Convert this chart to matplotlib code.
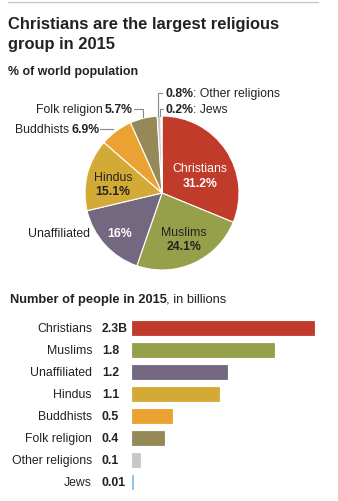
import matplotlib.pyplot as plt
from matplotlib.lines import Line2D

# data
religions = ["Christians", "Muslims", "Unaffiliated", "Hindus",
             "Buddhists", "Folk religion", "Other religions", "Jews"]
share_pct = [31.2, 24.1, 16.0, 15.1, 6.9, 5.7, 0.8, 0.2]
people_bn = [2.3, 1.8, 1.2, 1.1, 0.5, 0.4, 0.1, 0.01]
people_lbl = ["2.3B", "1.8", "1.2", "1.1", "0.5", "0.4", "0.1", "0.01"]
colors = ["#c13b2a", "#96a04a", "#736880", "#d4aa36",
          "#eca233", "#958a57", "#c6c8ca", "#86c2e6"]

W, H = 338, 502
plt.rcParams['font.family'] = ['Liberation Sans', 'DejaVu Sans']
fig = plt.figure(figsize=(W / 100, H / 100), dpi=100)
renderer = fig.canvas.get_renderer()
DARK = "#222222"
fs = 8.8


def px(x, y):
    return x / W, 1 - y / H


def ftext(x, y, s, **kw):
    kw.setdefault("color", DARK)
    kw.setdefault("va", "center")
    kw.setdefault("fontsize", fs)
    return fig.text(*px(x, y), s, **kw)


def rich(x, y, parts, ha="left", **kw):
    # parts: list of (text, bold) drawn one after another
    arts = [ftext(0, y, s, fontweight="bold" if b else "normal", **kw) for s, b in parts]
    widths = [a.get_window_extent(renderer).width - 1 for a in arts]
    x0 = x - sum(widths) if ha == "right" else x
    for a, w in zip(arts, widths):
        a.set_x(x0 / W)
        x0 += w
    return x0


def fline(xs, ys, color="#888888", lw=0.8):
    fig.add_artist(Line2D([x / W for x in xs], [1 - y / H for y in ys],
                          color=color, lw=lw, transform=fig.transFigure))


# header
fline([8, 318], [3, 3], color="#c8c8c8", lw=1.0)
ftext(8, 25, "Christians are the largest religious", fontsize=11.9, fontweight="bold")
ftext(8, 45, "group in 2015", fontsize=11.9, fontweight="bold")
ftext(8, 72, "% of world population", fontsize=8.9, fontweight="bold")

# pie
cx, cy, r = 162, 194, 77
axp = fig.add_axes([(cx - r) / W, 1 - (cy + r) / H, 2 * r / W, 2 * r / H])
axp.pie(share_pct, colors=colors, startangle=90, counterclock=False,
        wedgeprops=dict(edgecolor="white", linewidth=0.8))
axp.set_xlim(-1, 1)
axp.set_ylim(-1, 1)
axp.set_aspect("equal")
axp.axis("off")

ftext(200, 169, "Christians", color="white", ha="center")
ftext(200, 184, "31.2%", color="white", ha="center", fontweight="bold")
ftext(184, 233, "Muslims", ha="center")
ftext(184, 247, "24.1%", ha="center", fontweight="bold")
ftext(120, 234, "16%", color="white", ha="center", fontweight="bold")
ftext(90, 234, "Unaffiliated", ha="right")
ftext(113, 178, "Hindus", ha="center")
ftext(113, 192, "15.1%", ha="center", fontweight="bold")

# small-slice labels with leader lines
rich(99, 130, [("Buddhists ", False), ("6.9%", True)], ha="right")
fline([100, 113], [130, 130])
rich(132, 110, [("Folk religion ", False), ("5.7%", True)], ha="right")
fline([134, 143, 143], [110, 110, 118])
rich(166, 94, [("0.8%", True), (": Other religions", False)])
fline([162, 158, 158], [94, 94, 117])
rich(166, 110, [("0.2%", True), (": Jews", False)])
fline([163, 160, 160], [110, 110, 117])

# bars
rich(10, 300, [("Number of people in 2015", True), (", in billions", False)], fontsize=9.3)

row_h = 22
top = 329 - row_h / 2
left, scale = 132, 79.0
axb = fig.add_axes([left / W, 1 - (top + row_h * len(religions)) / H,
                    (W - left) / W, row_h * len(religions) / H])
ypos = list(range(len(religions)))
axb.barh(ypos, people_bn, height=0.68, color=colors, edgecolor=colors, linewidth=0.6)
axb.set_xlim(0, (W - left) / scale)
axb.set_ylim(len(religions) - 0.5, -0.5)
axb.axis("off")
for i, (name, lbl) in enumerate(zip(religions, people_lbl)):
    axb.text(-40 / scale, i, name, ha="right", va="center", fontsize=fs, color=DARK)
    axb.text(-30 / scale, i, lbl, ha="left", va="center", fontsize=fs,
             color=DARK, fontweight="bold")

fig.savefig("out.png", dpi=100)
